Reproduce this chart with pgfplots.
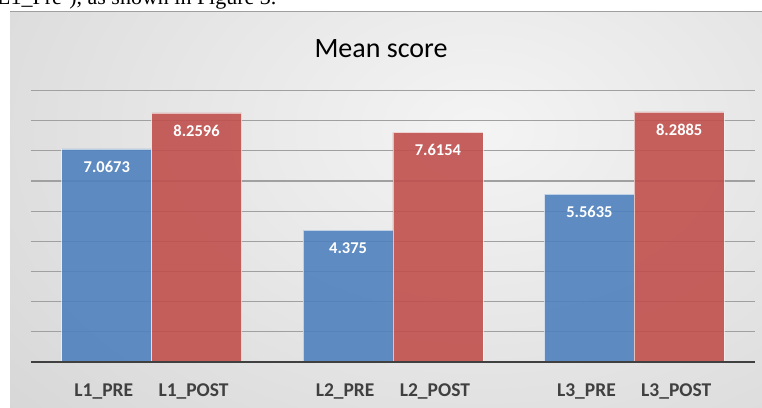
\documentclass[border=0pt]{standalone}
\usepackage{fontspec}
\setmainfont{Carlito}
\newfontfamily\timesfont{Liberation Serif}
\usepackage{pgfplots}
\pgfplotsset{compat=1.18}
\definecolor{barblue}{RGB}{79,129,189}
\definecolor{barred}{RGB}{192,80,77}
\definecolor{bgin}{RGB}{244,244,244}
\definecolor{bgout}{RGB}{198,198,198}
\definecolor{gridc}{RGB}{160,160,160}
\definecolor{axisc}{RGB}{64,64,64}
\pgfdeclareradialshading{bgshade}{\pgfpoint{0bp}{0bp}}{color(0bp)=(bgin); color(25bp)=(bgout); color(50bp)=(bgout)}
\begin{document}
\begin{tikzpicture}
\useasboundingbox (0pt,0pt) rectangle (762pt,407pt);
\clip (0pt,0pt) rectangle (762pt,407pt);
\node[anchor=base west, inner sep=0pt, font=\timesfont\fontsize{22}{26}\selectfont] at (-3pt,402pt) {L1\_Pre’), as shown in Figure 3.};
\begin{scope}
\clip (10pt,0pt) rectangle (762pt,395pt);
\fill[bgout] (10pt,0pt) rectangle (762pt,395pt);
\shade[shading=bgshade] (480pt,277pt) ellipse (1000pt and 680pt);
\end{scope}
\draw[gray!75, line width=1pt] (10pt,395pt) -- (762pt,395pt);
\node[anchor=base, inner sep=0pt, font=\fontsize{28}{32}\selectfont] at (381pt,349.7pt) {Mean score};
\begin{axis}[
  at={(31pt,45pt)}, anchor=south west, scale only axis,
  width=724pt, height=271.5pt,
  xmin=-0.5, xmax=2.5, ymin=0, ymax=9,
  enlargelimits=false,
  axis line style={draw=none},
  tick style={draw=none},
  ytick={1,2,3,4,5,6,7,8,9}, yticklabels={},
  ymajorgrids, grid style={gridc, line width=1.3pt},
  xtick={-0.186,0.186,0.814,1.186,1.814,2.186},
  xticklabels={L1\_PRE, L1\_POST, L2\_PRE, L2\_POST, L3\_PRE, L3\_POST},
  xticklabel style={font=\bfseries\fontsize{19.5}{22}\selectfont, text=axisc, anchor=north, inner sep=0pt, xshift=-3pt, yshift=-17.5pt},
  ybar, bar width=90pt,
  point meta=explicit symbolic,
  nodes near coords,
  nodes near coords style={anchor=north, yshift=-12pt, inner sep=0pt, text=white, opacity=1, text opacity=1, font=\bfseries\fontsize{16.5}{19}\selectfont},
  clip=false,
]
\addplot[bar shift=0pt, fill=barblue, fill opacity=0.9, draw=white, draw opacity=0.6, line width=0.6pt]
  coordinates {(-0.186,7.0673) [7.0673] (0.814,4.375) [4.375] (1.814,5.5635) [5.5635]};
\addplot[bar shift=0pt, fill=barred, fill opacity=0.9, draw=white, draw opacity=0.6, line width=0.6pt]
  coordinates {(0.186,8.2596) [8.2596] (1.186,7.6154) [7.6154] (2.186,8.2885) [8.2885]};
\draw[axisc, line width=2pt] (axis cs:-0.5,0) -- (axis cs:2.5,0);
\end{axis}
\end{tikzpicture}
\end{document}
